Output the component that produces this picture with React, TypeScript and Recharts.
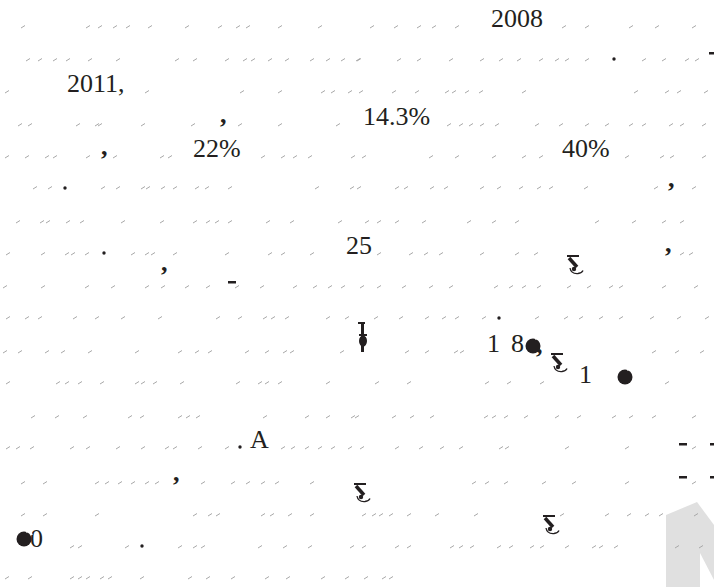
import React from 'react';
import { ComposedChart, XAxis, YAxis, Scatter, Area } from 'recharts';

const W = 714;
const H = 587;

// Legible words / numbers on the page: left x, baseline y
const words = [
  { x: 491, y: 27, t: '2008' },
  { x: 67, y: 92, t: '2011,' },
  { x: 363, y: 125, t: '14.3%' },
  { x: 193, y: 157, t: '22%' },
  { x: 562, y: 157, t: '40%' },
  { x: 346, y: 254, t: '25' },
  { x: 487, y: 352, t: '1' },
  { x: 511, y: 352, t: '8' },
  { x: 579, y: 383, t: '1' },
  { x: 250, y: 448, t: 'A' },
  { x: 30, y: 547, t: '0' },
];

// Commas: left x, baseline y
const commas = [
  { x: 220, y: 123 },
  { x: 101, y: 155 },
  { x: 161, y: 271 },
  { x: 668, y: 187 },
  { x: 665, y: 252 },
  { x: 173, y: 481 },
  { x: 536, y: 353 },
];

// Full stops: centre
const dots = [
  { x: 65, y: 188 },
  { x: 104, y: 253 },
  { x: 614, y: 59 },
  { x: 499, y: 318 },
  { x: 240, y: 447 },
  { x: 142, y: 546 },
];

// Short dashes: left x, centre y
const dashes = [
  { x: 228, y: 282 },
  { x: 679, y: 444 },
  { x: 710, y: 444 },
  { x: 679, y: 477 },
  { x: 710, y: 477 },
  { x: 709, y: 53 },
];

// Heavy round glyphs: centre
const blobs = [
  { x: 533, y: 346 },
  { x: 625, y: 377 },
  { x: 24, y: 539 },
];

// Jeem-like glyphs: top-left corner
const jeems = [
  { x: 551, y: 353 },
  { x: 567, y: 255 },
  { x: 354, y: 483 },
  { x: 543, y: 515 },
];

// Barred glyph: top-left corner
const bars = [{ x: 358, y: 322 }];

// Faint broken strokes, per text row: [baseline y, x positions]
const markRows: [number, number[]][] = [
  [27, [23, 88, 100, 115, 128, 150, 187, 220, 238, 248, 280, 320, 372, 396, 419, 434, 457, 564, 587, 631, 657, 694]],
  [60, [28, 40, 55, 68, 90, 118, 177, 195, 227, 245, 253, 270, 287, 312, 328, 343, 358, 359, 399, 419, 451, 482, 501, 519, 541, 557, 567, 587, 644, 664, 687, 697]],
  [92, [7, 147, 242, 280, 323, 333, 350, 361, 394, 417, 447, 454, 467, 481, 524, 636, 667, 679, 706]],
  [125, [20, 30, 78, 97, 100, 143, 193, 240, 280, 338, 449, 461, 471, 482, 497, 537, 561, 587, 607, 631, 644, 671, 682, 704]],
  [157, [7, 27, 47, 55, 88, 115, 162, 170, 263, 283, 295, 310, 353, 364, 431, 457, 494, 524, 541, 627, 662, 672, 704]],
  [188, [35, 50, 103, 118, 143, 148, 163, 175, 197, 207, 230, 317, 352, 359, 397, 406, 432, 446, 482, 499, 521, 539, 551, 586, 656, 694]],
  [222, [18, 42, 48, 68, 82, 123, 162, 195, 208, 217, 230, 268, 292, 340, 367, 379, 397, 424, 469, 494, 517, 597, 634, 664, 682]],
  [254, [8, 43, 67, 73, 87, 133, 147, 153, 175, 227, 270, 283, 312, 379, 411, 426, 441, 482, 517, 536, 682, 691]],
  [287, [5, 43, 87, 113, 147, 163, 187, 208, 237, 262, 295, 315, 330, 343, 362, 379, 404, 431, 451, 496, 511, 524, 539, 569, 589, 611, 621, 664, 696]],
  [318, [8, 27, 40, 75, 97, 123, 160, 218, 240, 265, 273, 287, 328, 347, 376, 401, 427, 444, 457, 484, 537, 566, 581, 601, 621, 652, 679, 707]],
  [352, [5, 20, 47, 63, 90, 137, 180, 197, 210, 247, 267, 285, 292, 342, 407, 427, 456, 462, 654, 677, 702]],
  [383, [8, 58, 67, 80, 102, 137, 143, 155, 182, 238, 260, 267, 280, 328, 377, 409, 487, 509, 542, 667]],
  [417, [33, 57, 85, 130, 142, 180, 188, 198, 265, 307, 328, 353, 357, 394, 412, 432, 486, 494, 506, 526, 557, 579, 614, 631, 654, 694]],
  [448, [8, 18, 32, 72, 88, 118, 143, 167, 175, 200, 227, 283, 293, 307, 320, 333, 350, 362, 397, 421, 442, 461, 501, 507, 567, 627, 694]],
  [483, [23, 45, 97, 107, 120, 133, 147, 157, 203, 233, 248, 263, 277, 312, 474, 487, 506, 544, 574, 627, 694]],
  [515, [23, 45, 97, 195, 210, 218, 263, 272, 290, 312, 364, 374, 381, 391, 409, 437, 476, 562, 607, 629, 647, 661, 696]],
  [547, [72, 80, 127, 180, 195, 203, 260, 285, 310, 352, 364, 397, 409, 452, 461, 472, 499, 511, 532, 542, 567, 594, 601, 616, 677, 701]],
  [578, [7, 30, 72, 80, 88, 102, 110, 142, 190, 208, 233, 267, 288, 323, 347, 366, 384, 391]],
];

// Grey corner watermark outline (x, [top y, bottom y])
const logoData = [
  { x: 666, r: [515, 587] },
  { x: 697, r: [502, 587] },
  { x: 714, r: [525, 587] },
];
const logoGap = [
  { x: 700, r: [553, 587] },
  { x: 714, r: [580, 587] },
];

const marks = markRows.flatMap(([y, xs]) => xs.map((x) => ({ x, y })));

const INK = '#231f20';
const SERIF = '"Liberation Serif", "Times New Roman", serif';

const WordShape = (p: any) => (
  <text x={p.cx} y={p.cy} fontFamily={SERIF} fontSize={26} fill={INK} textAnchor="start">
    {p.payload.t}
  </text>
);
const CommaShape = (p: any) => (
  <text x={p.cx} y={p.cy} fontFamily={SERIF} fontSize={26} fill={INK} fontWeight="bold">
    ,
  </text>
);
const DotShape = (p: any) => <circle cx={p.cx} cy={p.cy} r={1.7} fill={INK} />;
const DashShape = (p: any) => <rect x={p.cx} y={p.cy - 1} width={8} height={2.5} fill={INK} />;
const BlobShape = (p: any) => (
  <g>
    <circle cx={p.cx} cy={p.cy} r={7.5} fill={INK} />
    <path d={`M${p.cx + 2},${p.cy - 7} Q${p.cx + 7},${p.cy - 9} ${p.cx + 8},${p.cy - 4}`} stroke="#fff" strokeWidth={1.6} fill="none" />
  </g>
);
const JeemShape = (p: any) => {
  const x = p.cx;
  const y = p.cy;
  return (
    <g>
      <rect x={x} y={y} width={12} height={2} fill={INK} />
      <path d={`M${x + 2},${y + 3} L${x + 10},${y + 12}`} stroke={INK} strokeWidth={3.5} fill="none" />
      <circle cx={x + 7} cy={y + 14} r={2.2} fill={INK} />
      <path d={`M${x + 3},${y + 13} Q${x + 4},${y + 19} ${x + 11},${y + 18.5} Q${x + 15},${y + 18} ${x + 16},${y + 15.5}`} stroke={INK} strokeWidth={1.3} fill="none" />
    </g>
  );
};
const BarShape = (p: any) => {
  const x = p.cx;
  const y = p.cy;
  return (
    <g>
      <rect x={x} y={y} width={7} height={2} fill={INK} />
      <rect x={x + 3} y={y} width={3} height={30} fill={INK} />
      <rect x={x + 1} y={y + 12} width={8} height={2} fill={INK} />
      <ellipse cx={x + 5} cy={y + 19} rx={4} ry={5.5} fill={INK} />
    </g>
  );
};
const MarkShape = (p: any) => (
  <line x1={p.cx - 2} y1={p.cy + 1} x2={p.cx + 2} y2={p.cy - 1.5} stroke="#a8a8a8" strokeWidth={1} />
);

export default function App() {
  return (
    <div style={{ position: 'absolute', left: 0, top: 0, width: W, height: H, background: '#fff' }}>
      <ComposedChart width={W} height={H} margin={{ top: 0, right: 0, bottom: 0, left: 0 }}>
        <XAxis type="number" dataKey="x" domain={[0, W]} hide allowDataOverflow />
        <YAxis type="number" dataKey="y" domain={[0, H]} reversed hide allowDataOverflow />
        <Area data={logoData} dataKey="r" type="linear" fill="#e0e0e0" fillOpacity={1} stroke="none" isAnimationActive={false} />
        <Area data={logoGap} dataKey="r" type="linear" fill="#ffffff" fillOpacity={1} stroke="none" isAnimationActive={false} />
        <Scatter data={marks} dataKey="y" shape={MarkShape} isAnimationActive={false} />
        <Scatter data={words} dataKey="y" shape={WordShape} isAnimationActive={false} />
        <Scatter data={commas} dataKey="y" shape={CommaShape} isAnimationActive={false} />
        <Scatter data={dots} dataKey="y" shape={DotShape} isAnimationActive={false} />
        <Scatter data={dashes} dataKey="y" shape={DashShape} isAnimationActive={false} />
        <Scatter data={blobs} dataKey="y" shape={BlobShape} isAnimationActive={false} />
        <Scatter data={jeems} dataKey="y" shape={JeemShape} isAnimationActive={false} />
        <Scatter data={bars} dataKey="y" shape={BarShape} isAnimationActive={false} />
      </ComposedChart>
    </div>
  );
}
